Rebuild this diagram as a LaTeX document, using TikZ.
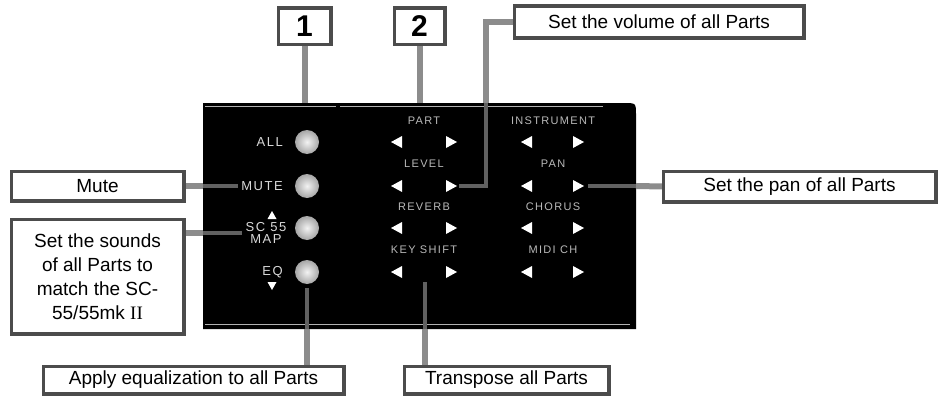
\documentclass[tikz,border=0pt]{standalone}
\usepackage{fontspec}
\setmainfont{Liberation Sans}
\newfontfamily\serifII{Liberation Serif}
\newfontfamily\panelfont[LetterSpace=12]{Liberation Sans}
\begin{document}
\begin{tikzpicture}[x=1pt,y=-1pt,
  callout/.style={draw=black!70, line width=2.5pt, fill=white, inner sep=0pt, font=\fontsize{19}{24}\selectfont},
  numbox/.style={callout, font=\fontsize{30}{30}\selectfont\bfseries},
  conn/.style={line width=6pt, draw=black!45},
  inconn/.style={line width=4pt, draw=black!62},
  btn/.style={circle, minimum size=24pt, inner sep=0pt, shade, inner color=gray!10, outer color=gray!70},
  plabel/.style={text=gray!30, font=\panelfont\fontsize{13}{12}\selectfont, inner sep=0pt},
  clabel/.style={text=gray!55, font=\panelfont\fontsize{11}{11}\selectfont, inner sep=0pt},
  arrowfill/.style={fill=white}
]
\useasboundingbox (0,0) rectangle (939,396);
\fill[white] (0,0) rectangle (939,396);

% panel
\fill[black] (203,103) -- (624,103) .. controls (636,103) .. (636,115) -- (636,329) -- (203,329) -- cycle;
\coordinate (pTL) at (203,103);
\coordinate (pBR) at (636,329);
\draw[gray!60, line width=0.8pt] (205,106) -- (336,106);
\draw[gray!60, line width=0.8pt] (340,106) -- (603,106);
\draw[gray!60, line width=0.8pt] (205,324) -- (630,324);

% callout boxes
\node[numbox, minimum width=51pt, minimum height=35pt] (box1) at (304.5,26.5) {1};
\node[numbox, minimum width=49pt, minimum height=35pt] (box2) at (419.5,26.5) {2};
\node[callout, minimum width=288pt, minimum height=31pt] (vol) at (659,22) {Set the volume of all Parts};
\node[callout, minimum width=271pt, minimum height=29pt] (pan) at (799.5,186.5) {Set the pan of all Parts};
\node[callout, minimum width=171pt, minimum height=28pt] (mute) at (97.5,186) {Mute};
\node[callout, minimum width=171pt, minimum height=113pt, align=center] (sc) at (97.5,276.5)
  {Set the sounds\\of all Parts to\\match the SC-\\55/55mk {\serifII II}};
\node[callout, minimum width=299pt, minimum height=26pt] (apply) at (193.5,380) {Apply equalization to all Parts};
\node[callout, minimum width=203pt, minimum height=26pt] (trans) at (506.5,380) {Transpose all Parts};

% panel contents: buttons and labels
\node[btn] (bAll) at (307,142) {};
\node[btn] (bMute) at (307,186) {};
\node[btn] (bSC) at (307,228) {};
\node[btn] (bEQ) at (307,272) {};
\node[plabel, anchor=east] (lAll) at (283,142) {ALL};
\node[plabel, anchor=east] (lMute) at (283,186) {MUTE};
\node[plabel, align=center] (lSC) at (266,233) {SC 55\\MAP};
\node[plabel, anchor=east] (lEQ) at (283,272) {EQ};
\fill[white] (272,211) -- (276.5,219) -- (267.5,219) -- cycle;
\fill[white] (272,290) -- (276.5,282) -- (267.5,282) -- cycle;

% column labels
\node[clabel] (cPart) at (424,121) {PART};
\node[clabel] (cLevel) at (424,164) {LEVEL};
\node[clabel] (cRev) at (424,207) {REVERB};
\node[clabel] (cKey) at (424,250) {KEY SHIFT};
\node[clabel] (cInst) at (553,121) {INSTRUMENT};
\node[clabel] (cPan) at (553,164) {PAN};
\node[clabel] (cCho) at (553,207) {CHORUS};
\node[clabel] (cMidi) at (553,250) {MIDI CH};

% arrows
\foreach \yy in {142,186,228,272}{
  \foreach \xl in {397,527}{
    \fill[arrowfill, shift={(\xl,\yy)}] (5,-6) -- (-6,0) -- (5,6) -- cycle;
  }
  \foreach \xr in {451,578}{
    \fill[arrowfill, shift={(\xr,\yy)}] (-5,-6) -- (6,0) -- (-5,6) -- cycle;
  }
}
\coordinate (levelR) at (459,186);
\coordinate (panR) at (588,186);
\coordinate (ksMid) at (425,282);
\coordinate (vbend) at (486,22);

% connectors inside the panel
\draw[inconn] (levelR) -- (levelR -| vbend) -- (vbend |- pTL);
\draw[inconn] (panR) -- (panR -| pBR);
\draw[inconn, shorten >=3pt] (mute.east) -- (lMute.west);
\draw[inconn, shorten >=3pt] (lSC.west -| sc.east) -- (lSC.west);
\draw[inconn, shorten <=4pt] (bEQ.south) -- (bEQ.south |- pBR);
\draw[inconn] (ksMid) -- (ksMid |- pBR);

% connectors outside the panel
\draw[conn] (box1.south) -- (box1.south |- pTL);
\draw[conn] (box2.south) -- (box2.south |- pTL);
\draw[conn] (vbend |- pTL) -- (vbend) -- (vol.west);
\draw[conn] (panR -| pBR) -- (pan.west);
\draw[conn] (mute.east) -- (mute.east -| pTL);
\draw[conn] (lSC.west -| sc.east) -- (lSC.west -| pTL);
\draw[conn] (bEQ.south |- pBR) -- (apply.north -| bEQ.south);
\draw[conn] (ksMid |- pBR) -- (trans.north -| ksMid);

% redraw box borders over connector ends
\foreach \b in {box1,box2,vol,pan,mute,sc,apply,trans}{
  \draw[black!70, line width=2.5pt] (\b.north west) rectangle (\b.south east);
}
\end{tikzpicture}
\end{document}
